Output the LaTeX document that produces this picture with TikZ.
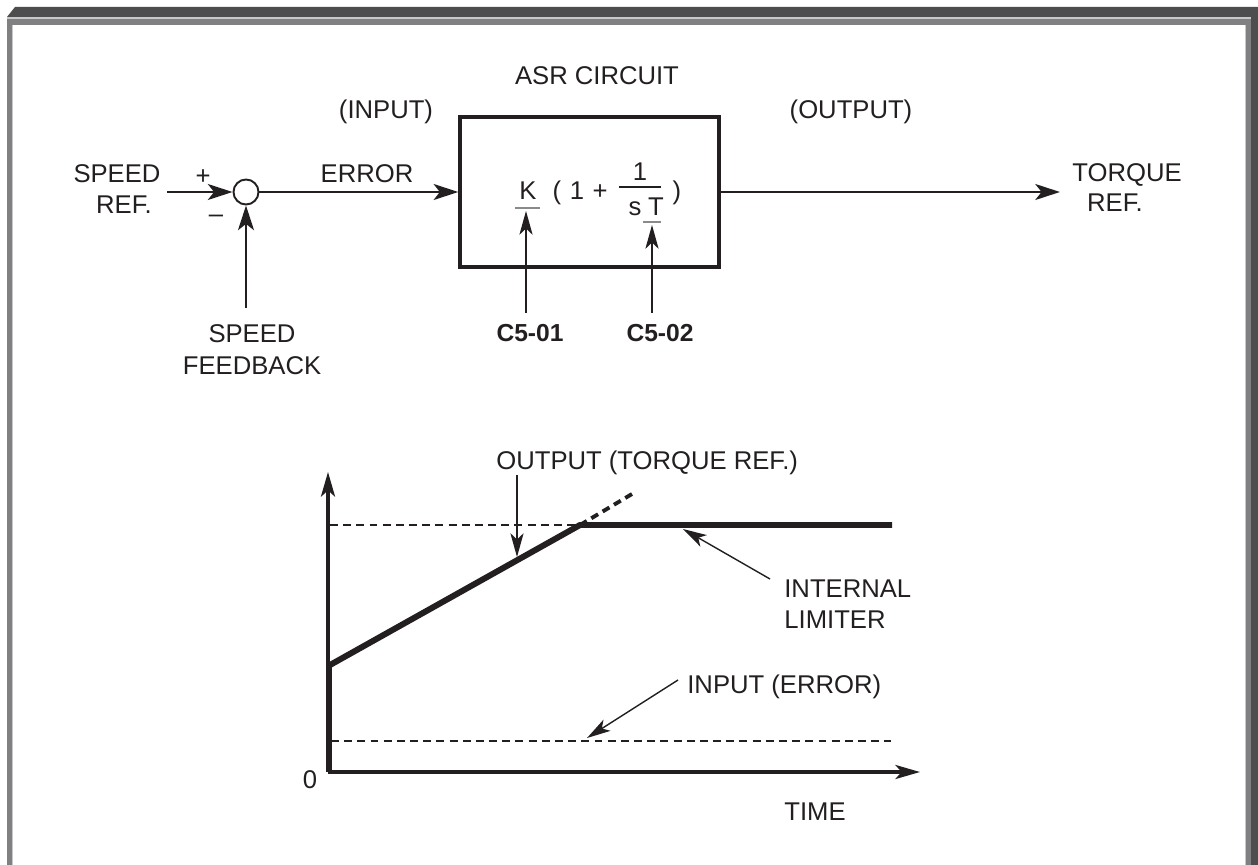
\documentclass[tikz,border=0pt]{standalone}
\usepackage{fontspec}
\setmainfont{Liberation Sans}
\usetikzlibrary{arrows.meta,calc}
\definecolor{ink}{HTML}{231F20}
\definecolor{framedark}{HTML}{4D4D4F}
\definecolor{framemid}{HTML}{808083}
\definecolor{framelight}{HTML}{C8C8CA}
\definecolor{ulgray}{HTML}{8A8A8C}
\tikzset{
  lbl/.style={font=\fontsize{14.6}{18}\selectfont, text=ink, inner sep=0pt, anchor=base},
  lblw/.style={lbl, anchor=base west},
  boldlbl/.style={lbl, font=\fontsize{14}{18}\selectfont\bfseries},
  bigarrow/.style={draw=ink, line width=1.7pt, -{Stealth[length=14pt,width=9pt,inset=3.5pt]}},
  thinarrow/.style={draw=ink, line width=0.8pt, -{Stealth[length=13.5pt,width=7.5pt,inset=3.5pt]}},
  axisline/.style={draw=ink, line width=1.8pt, -{Stealth[length=14pt,width=8pt,inset=3.5pt]}},
  curve/.style={draw=ink, line width=3.4pt},
  dashline/.style={draw=ink, line width=1.5pt, dash pattern=on 4.5pt off 3pt},
  blockbox/.style={draw=ink, line width=1.9pt, minimum width=259*0.02cm, minimum height=150*0.02cm, inner sep=0pt},
  sumcircle/.style={draw=ink, line width=1.1pt, circle, minimum size=25*0.02cm, inner sep=0pt},
}
\begin{document}
\begin{tikzpicture}[x=0.02cm,y=-0.02cm]
\useasboundingbox (0,0) rectangle (1258,865);
\fill[white] (0,0) rectangle (1258,865);
% frame
\fill[framedark] (7,17) -- (15,7) -- (1258,7) -- (1258,865) -- (1251,865) -- (1251,17) -- cycle;
\fill[framelight] (7,17) rectangle (1251,19);
\fill[framemid] (7,19) rectangle (1251,25);
\fill[framemid] (7,19) rectangle (12,865);
\fill[framemid] (1246,19) rectangle (1251,865);
\fill[framelight] (12,25) rectangle (13,865);
\fill[framelight] (1245,25) rectangle (1246,865);

% ---- block diagram ----
\node[lbl] (asr) at (597,85) {ASR CIRCUIT};
\node[lbl] (inlbl) at (386,119) {(INPUT)};
\node[lbl] (outlbl) at (851,119) {(OUTPUT)};
\node[blockbox] (box) at (589.5,192) {};
\node[sumcircle] (sum) at (246,192) {};
\node[lbl] (sr1) at (117,182) {SPEED};
\node[lbl] (sr2) at (124,214) {REF.};
\node[lbl, anchor=center] (plus) at (203,177) {+};
\node[lbl, anchor=center] (minus) at (216,219) {–};
\node[lbl] (err) at (367,182) {ERROR};
\node[lbl] (fb1) at (252,342) {SPEED};
\node[lbl] (fb2) at (252,374) {FEEDBACK};
\node[lbl] (tq1) at (1127,181) {TORQUE};
\node[lbl] (tq2) at (1115,212) {REF.};
\node[boldlbl] (c501) at (530,341) {C5-01};
\node[boldlbl] (c502) at (660,341) {C5-02};

\coordinate (srtail) at (167,192);
\coordinate (fbtail) at (246,308);
\coordinate (outend) at (1060,192);
\draw[bigarrow] (srtail) -- (sum.west);
\draw[bigarrow] (fbtail) -- (sum.south);
\draw[bigarrow] (sum.east) -- (box.west);
\draw[bigarrow] (box.east) -- (outend);

% formula
\node[lbl] (fK) at (528,199) {K};
\node[lbl] (fl) at (557,199) {(};
\node[lbl] (f1) at (577,199) {1};
\node[lbl] (fplus) at (600,199) {+};
\node[lbl] (fnum) at (640,180) {1};
\node[lbl] (fs) at (635,215) {s};
\node[lbl] (fT) at (656,215) {T};
\node[lbl] (fr) at (677,199) {)};
\draw[ink, line width=1.4pt] (619,187) -- (661,187);
\draw[ulgray, line width=0.9pt] (515,208) -- (540,208);
\draw[ulgray, line width=0.9pt] (643,222) -- (661,222);
\coordinate (ktail) at (526,313);
\coordinate (ktip) at (526,211);
\coordinate (ttail) at (652,313);
\coordinate (ttip) at (652,225);
\draw[thinarrow] (ktail) -- (ktip);
\draw[thinarrow] (ttail) -- (ttip);

% ---- graph ----
\coordinate (origin) at (328,772);
\coordinate (ytip) at (328,472);
\coordinate (xtip) at (920,772);
\draw[axisline] (origin) -- (ytip);
\draw[axisline] (origin) -- (xtip);
\coordinate (rampstart) at (330,665);
\coordinate (knee) at (580,525);
\coordinate (limend) at (892,525);
\draw[ink, line width=2.6pt] (329.5,772) -- (329.5,665);
\draw[curve, line join=miter] (rampstart) -- (knee) -- (limend);
\draw[dashline] (330,525) -- (knee);
\draw[dashline, line width=2.2pt] (knee) -- (632,494);
\draw[dashline] (331,741) -- (891,741);

\node[lblw] (outtxt) at (496,469) {OUTPUT (TORQUE REF.)};
\node[lblw] (il1) at (784,597) {INTERNAL};
\node[lblw] (il2) at (784,628) {LIMITER};
\node[lblw] (inerr) at (687,693) {INPUT (ERROR)};
\node[lbl] (zero) at (310,788) {0};
\node[lblw] (time) at (784,820) {TIME};

\coordinate (otail) at (517,475);
\coordinate (otip) at (517,557);
\coordinate (ltail) at (770,579);
\coordinate (ltip) at (683,529);
\coordinate (itail) at (678,680);
\coordinate (itip) at (587,738);
\draw[thinarrow] (otail) -- (otip);
\draw[thinarrow] (ltail) -- (ltip);
\draw[thinarrow] (itail) -- (itip);
\end{tikzpicture}
\end{document}
